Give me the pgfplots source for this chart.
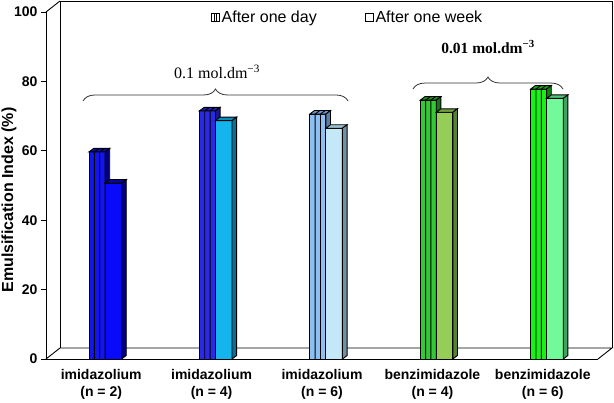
\documentclass[border=0pt]{standalone}
\usepackage{fontspec}
\setmainfont{Liberation Sans}
\newfontfamily\timesf{Liberation Serif}
\usepackage{pgfplots}
\pgfplotsset{compat=1.18}
\usetikzlibrary{decorations.pathreplacing}

\definecolor{aDf}{HTML}{1414F0}\definecolor{aDt}{HTML}{0A0AB4}\definecolor{aDs}{HTML}{00007A}
\definecolor{aWf}{HTML}{0A0AFA}\definecolor{aWt}{HTML}{0606A8}\definecolor{aWs}{HTML}{000080}
\definecolor{bDf}{HTML}{2A2AE6}\definecolor{bDt}{HTML}{2020A8}\definecolor{bDs}{HTML}{18188A}
\definecolor{bWf}{HTML}{14B4EC}\definecolor{bWt}{HTML}{0C8CB8}\definecolor{bWs}{HTML}{0C6E90}
\definecolor{cDf}{HTML}{8CC0F2}\definecolor{cDt}{HTML}{6E98C8}\definecolor{cDs}{HTML}{5A7EA8}
\definecolor{cWf}{HTML}{C4E8F8}\definecolor{cWt}{HTML}{9CBCCC}\definecolor{cWs}{HTML}{7490A0}
\definecolor{dDf}{HTML}{34C834}\definecolor{dDt}{HTML}{249424}\definecolor{dDs}{HTML}{1C701C}
\definecolor{dWf}{HTML}{96CC58}\definecolor{dWt}{HTML}{74A240}\definecolor{dWs}{HTML}{5A8032}
\definecolor{eDf}{HTML}{18F018}\definecolor{eDt}{HTML}{10B010}\definecolor{eDs}{HTML}{0C880C}
\definecolor{eWf}{HTML}{72FA9A}\definecolor{eWt}{HTML}{54C078}\definecolor{eWs}{HTML}{42A060}

\def\ddx{0.042}
\def\ddy{1.0}
% #1 x0, #2 width, #3 value, #4 front, #5 top, #6 side, #7 stripes (0/1)
\newcommand\threedbar[7]{%
 \pgfmathsetmacro\xa{#1}%
 \pgfmathsetmacro\xb{#1+#2}%
 \pgfmathsetmacro\xat{#1+\ddx}%
 \pgfmathsetmacro\xbt{#1+#2+\ddx}%
 \pgfmathsetmacro\vt{#3+\ddy}%
 \pgfmathsetmacro\sa{#1+#2/3}%
 \pgfmathsetmacro\sb{#1+2*#2/3}%
 \pgfmathsetmacro\sat{#1+#2/3+\ddx}%
 \pgfmathsetmacro\sbt{#1+2*#2/3+\ddx}%
 \edef\doplot{%
  \noexpand\addplot[forget plot,draw=black,line width=0.9pt,fill=#4] coordinates {(\xa,0) (\xb,0) (\xb,#3) (\xa,#3)} -- cycle;
  \noexpand\addplot[forget plot,draw=black,line width=0.9pt,fill=#5] coordinates {(\xa,#3) (\xb,#3) (\xbt,\vt) (\xat,\vt)} -- cycle;
  \noexpand\addplot[forget plot,draw=black,line width=0.9pt,fill=#6] coordinates {(\xb,0) (\xbt,\ddy) (\xbt,\vt) (\xb,#3)} -- cycle;
 }\doplot
 \ifnum#7=1
 \edef\doplot{%
  \noexpand\addplot[forget plot,draw=black,line width=0.9pt] coordinates {(\sa,0) (\sa,#3) (\sat,\vt)};
  \noexpand\addplot[forget plot,draw=black,line width=0.9pt] coordinates {(\sb,0) (\sb,#3) (\sbt,\vt)};
 }\doplot
 \fi
}

\begin{document}
\begin{tikzpicture}
\useasboundingbox (0,0) rectangle (614pt,403pt);
\begin{axis}[
  at={(46pt,44pt)}, anchor=south west,
  scale only axis, width=552pt, height=347pt,
  xmin=0, xmax=5, ymin=0, ymax=100,
  clip=false,
  axis lines*=left,
  axis line style={black, line width=0.9pt},
  xtick={0.5,1.5,2.5,3.5,4.5},
  xticklabels={{imidazolium\\(n = 2)},{imidazolium\\(n = 4)},{imidazolium\\(n = 6)},{benzimidazole\\(n = 4)},{benzimidazole\\(n = 6)}},
  x tick label style={align=center, font=\bfseries\fontsize{14}{16.5}\selectfont, yshift=-2pt},
  major x tick style={draw=none},
  ytick={0,20,40,60,80,100},
  tick align=outside,
  major tick length=5pt,
  y tick style={black, line width=0.9pt},
  y tick label style={font=\bfseries\fontsize{14}{16}\selectfont},
  /pgf/number format/assume math mode=true,
  ylabel={Emulsification Index (\%)},
  y label style={at={(axis description cs:-0.067,0.458)}, anchor=center, rotate=0, font=\bfseries\fontsize{16}{18}\selectfont},
  legend columns=2,
  legend style={draw=none, fill=none, at={(0.293,0.9856)}, anchor=west, font=\fontsize{16}{19}\selectfont, /tikz/every even column/.append style={column sep=46pt}},
  legend cell align=left,
]
\addlegendimage{legend image code/.code={\draw[fill=white,line width=0.7pt] (0pt,-4pt) rectangle (8pt,4pt); \draw[fill=white,line width=0.7pt] (2.7pt,-4pt) rectangle (5.3pt,4pt);}}
\addlegendentry{After one day}
\addlegendimage{legend image code/.code={\draw[fill=white,line width=0.7pt] (0pt,-4pt) rectangle (8pt,4pt);}}
\addlegendentry{After one week}

% frame
\draw[black, line width=0.9pt] (axis cs:0,0) -- ++(14pt,11pt) -- ([shift={(14pt,11pt)}]axis cs:5,0) -- (axis cs:5,0);
\draw[black, line width=0.9pt] ([shift={(14pt,11pt)}]axis cs:0,0) -- ([shift={(14pt,11pt)}]axis cs:0,100) -- ([shift={(14pt,11pt)}]axis cs:5,100) -- ([shift={(14pt,11pt)}]axis cs:5,0);
\draw[black, line width=0.9pt] (axis cs:0,100) -- ++(14pt,11pt);

% bars: day (striped), week
\threedbar{0.39}{0.145}{59.7}{aDf}{aDt}{aDs}{1}
\threedbar{0.535}{0.15}{50.7}{aWf}{aWt}{aWs}{0}
\threedbar{1.39}{0.145}{71.5}{bDf}{bDt}{bDs}{1}
\threedbar{1.535}{0.15}{68.7}{bWf}{bWt}{bWs}{0}
\threedbar{2.39}{0.145}{70.6}{cDf}{cDt}{cDs}{1}
\threedbar{2.535}{0.15}{66.5}{cWf}{cWt}{cWs}{0}
\threedbar{3.39}{0.145}{74.6}{dDf}{dDt}{dDs}{1}
\threedbar{3.535}{0.15}{71.1}{dWf}{dWt}{dWs}{0}
\threedbar{4.39}{0.145}{77.8}{eDf}{eDt}{eDs}{1}
\threedbar{4.535}{0.15}{75.1}{eWf}{eWt}{eWs}{0}

% braces and annotations
\draw[black!80, line width=0.8pt, decorate, decoration={brace, amplitude=12pt}] (axis cs:0.335,74.35) -- (axis cs:2.736,74.35);
\draw[black!80, line width=0.8pt, decorate, decoration={brace, amplitude=12pt}] (axis cs:3.324,77.8) -- (axis cs:4.683,77.8);
\node[font=\timesf\fontsize{16}{19}\selectfont] at (axis cs:1.549,82.7) {0.1 mol.dm\textsuperscript{−3}};
\node[font=\timesf\bfseries\fontsize{15.5}{18}\selectfont] at (axis cs:4.004,89.9) {0.01 mol.dm\textsuperscript{−3}};
\end{axis}
\end{tikzpicture}
\end{document}
